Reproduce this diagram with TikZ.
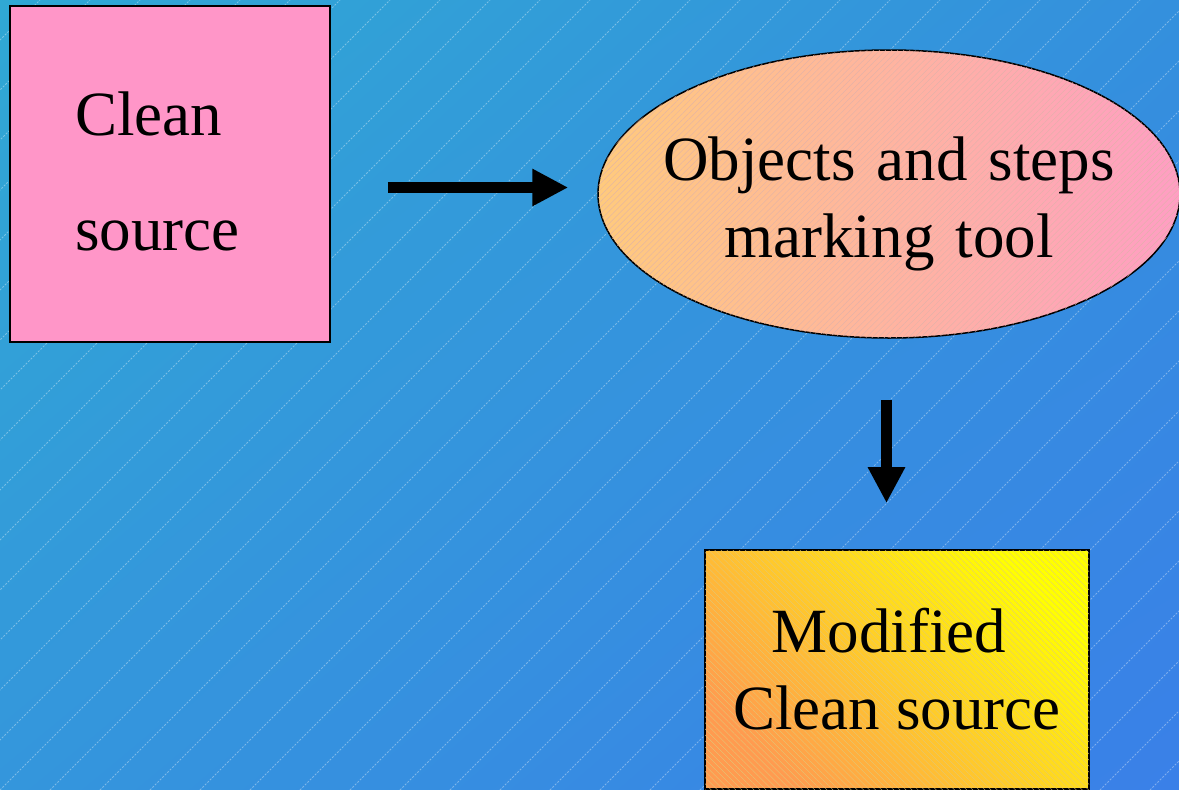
\documentclass[tikz,border=0pt]{standalone}
\usepackage{fontspec}
\setmainfont{Liberation Serif}
\usetikzlibrary{arrows.meta,shapes.geometric,patterns,patterns.meta,calc,shadings}

\definecolor{bgTL}{RGB}{48,168,212}
\definecolor{bgTR}{RGB}{52,144,221}
\definecolor{bgBL}{RGB}{52,150,220}
\definecolor{bgBR}{RGB}{58,128,232}
\definecolor{pinkbox}{RGB}{255,150,200}
\definecolor{peach}{RGB}{255,202,125}
\definecolor{rose}{RGB}{255,158,195}
\definecolor{deeporange}{RGB}{255,155,80}
\definecolor{brightyellow}{RGB}{255,255,0}
\definecolor{hatchpeach}{RGB}{222,178,170}
\definecolor{hatchgold}{RGB}{225,200,120}

\tikzset{
  bigtext/.style={font=\fontsize{63}{77}\selectfont, text=black},
  hatchNE/.style={postaction={pattern={Lines[angle=45,distance=4.3pt,line width=0.35pt]},
                              pattern color=hatchpeach}},
  hatchNW/.style={postaction={pattern={Lines[angle=-45,distance=4.3pt,line width=0.35pt]},
                              pattern color=hatchgold}},
  flowarrow/.style={line width=11pt, -{Triangle[length=36pt,width=35pt]}},
  bgline/.style={white, opacity=0.35, line width=0.8pt, dash pattern=on 2pt off 1.5pt},
}

\begin{document}
\begin{tikzpicture}[x=1pt,y=-1pt]
  \useasboundingbox (0,0) rectangle (1179,790);

  % background with a soft diagonal gradient and sparse hatching
  \shade[upper left=bgTL, upper right=bgTR, lower left=bgBL, lower right=bgBR]
    (0,0) rectangle (1179,790);
  \begin{scope}
    \clip (0,0) rectangle (1179,790);
    \foreach \k in {-800,-750,...,1200}
      \draw[bgline] (\k,790) -- (\k+790,0);
  \end{scope}

  % input file
  \node[bigtext, draw=black, line width=1.8pt, fill=pinkbox, rectangle,
        minimum width=320, minimum height=336, text width=190, inner xsep=65,
        align=left] (clean) at (170,174)
        {Clean\\[38pt]source\rule[-6pt]{0pt}{6pt}};

  % processing tool
  \node[bigtext, ellipse, draw=black, line width=1.5pt,
        left color=peach, right color=rose, hatchNE,
        minimum width=582, minimum height=288, inner sep=0pt,
        text width=400, align=center]
        (tool) at (889,194)
        {\rule{0pt}{63pt}\makebox[\linewidth]{Objects and steps}\\marking tool};

  % output file
  \node[bigtext, draw=black, line width=1.8pt, rectangle,
        left color=deeporange, right color=brightyellow, shading angle=135, hatchNW,
        minimum width=384, minimum height=239, inner sep=0pt, align=center]
        (mod) at (897,669.5)
        {Modified\kern16pt\\Clean source};

  % flow
  \draw[flowarrow] ($(clean.east)+(57,13.5)$) -- ($(tool.west)+(-29,-6.5)$);
  \draw[flowarrow] ($(tool.south)+(-2.5,61)$) -- ($(mod.north)+(-10.5,-46)$);
\end{tikzpicture}
\end{document}
